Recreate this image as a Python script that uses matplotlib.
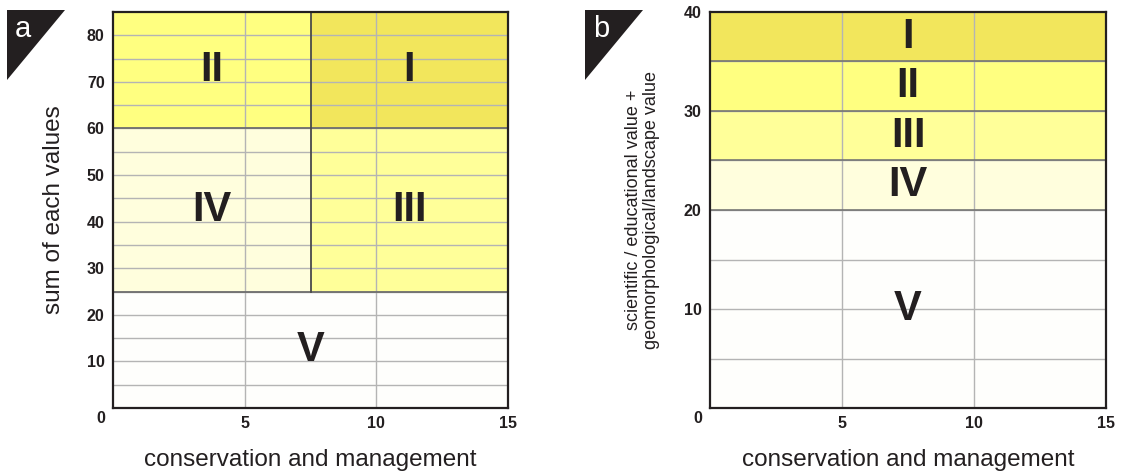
import matplotlib.pyplot as plt
from matplotlib.patches import Polygon

plt.rcParams['font.family'] = ['Liberation Sans', 'DejaVu Sans']

# Panel a: classes on (conservation and management) x (sum of each values)
a_classes = ['I', 'II', 'III', 'IV', 'V']
a_x0 = [7.5, 0, 7.5, 0, 0]
a_x1 = [15, 7.5, 15, 7.5, 15]
a_y0 = [60, 60, 25, 25, 0]
a_y1 = [85, 85, 60, 60, 25]

# Panel b: classes on scientific/educational + geomorphological/landscape value
b_classes = ['I', 'II', 'III', 'IV', 'V']
b_y0 = [35, 30, 25, 20, 0]
b_y1 = [40, 35, 30, 25, 20]

a_yticks = [10, 20, 30, 40, 50, 60, 70, 80]
b_yticks = [10, 20, 30, 40]
xticks = [5, 10, 15]

colors = {'I': '#f2e65c', 'II': '#ffff80', 'III': '#ffff99', 'IV': '#fffedd', 'V': '#fefefc'}
dark = '#231f20'
grid_c = '#b4b4b4'
edge_c = '#6e6e6e'


def style_axes(ax, ymax, yticks, ystep):
    ax.set_xlim(0, 15)
    ax.set_ylim(0, ymax)
    for y in range(ystep, ymax, ystep):
        ax.axhline(y, color=grid_c, lw=1, zorder=1)
    for x in [5, 10]:
        ax.axvline(x, color=grid_c, lw=1, zorder=1)
    ax.set_xticks(xticks)
    ax.set_yticks(yticks)
    ax.tick_params(length=0, labelsize=11.5, pad=6, colors=dark)
    for lab in ax.get_xticklabels() + ax.get_yticklabels():
        lab.set_fontweight('bold')
    ax.text(-0.3, -2.3 * ymax / 85, '0', ha='right', va='center', fontsize=11.5,
            fontweight='bold', color=dark)
    for s in ax.spines.values():
        s.set_color(dark)
        s.set_linewidth(1.6)
        s.set_zorder(5)
    ax.set_xlabel('conservation and management', fontsize=17.5, labelpad=13, color=dark)


def corner(fig, x0, letter):
    tri = Polygon([[x0, 463], [x0 + 58, 463], [x0, 393]], closed=True,
                  transform=None, facecolor=dark, edgecolor='none')
    fig.patches.append(tri)
    fig.text((x0 + 16) / 1122, 1 - 29 / 473, letter, color='white', fontsize=21,
             ha='center', va='center')


fig = plt.figure(figsize=(11.22, 4.73), dpi=100)
ax1 = fig.add_axes([113 / 1122, 65 / 473, 395 / 1122, 396 / 473])
ax2 = fig.add_axes([710 / 1122, 65 / 473, 396 / 1122, 396 / 473])

# panel a
for c, x0, x1, y0, y1 in zip(a_classes, a_x0, a_x1, a_y0, a_y1):
    ax1.fill_between([x0, x1], y0, y1, color=colors[c], lw=0, zorder=0)
    ax1.text((x0 + x1) / 2, (y0 + y1) / 2, c, ha='center', va='center', fontsize=30,
             fontweight='bold', color=dark, zorder=6)
style_axes(ax1, 85, a_yticks, 5)
ax1.axhline(60, color=edge_c, lw=1.3, zorder=2)
ax1.axhline(25, color=edge_c, lw=1.3, zorder=2)
ax1.plot([7.5, 7.5], [25, 85], color='#4a4a4a', lw=1.3, zorder=2)
ax1.set_ylabel('sum of each values', fontsize=17.5, labelpad=16, color=dark)

# panel b
for c, y0, y1 in zip(b_classes, b_y0, b_y1):
    ax2.fill_between([0, 15], y0, y1, color=colors[c], lw=0, zorder=0)
    ax2.text(7.5, (y0 + y1) / 2, c, ha='center', va='center', fontsize=30,
             fontweight='bold', color=dark, zorder=6)
style_axes(ax2, 40, b_yticks, 5)
for y in b_y0[:-1]:
    ax2.axhline(y, color=edge_c, lw=1.1, zorder=2)
ax2.set_ylabel('scientific / educational value +\ngeomorphological/landscape value',
               fontsize=13, labelpad=17, color=dark, linespacing=1.1)

corner(fig, 7, 'a')
corner(fig, 585, 'b')

fig.savefig('out.png', dpi=100)
